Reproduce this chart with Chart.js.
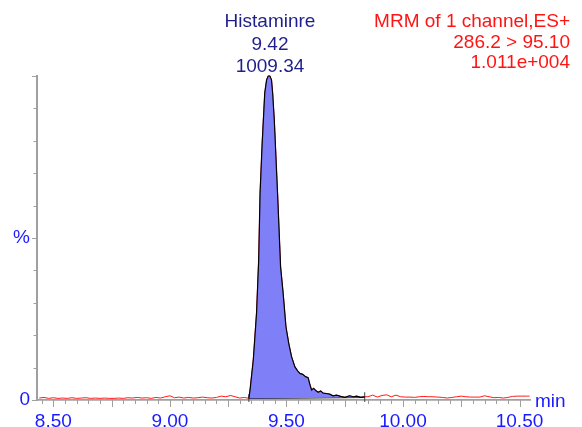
<!DOCTYPE html>
<html>
<head>
<meta charset="utf-8">
<style>
  html, body { margin: 0; padding: 0; background: #ffffff; }
  #c { display: block; }
</style>
<script src="https://cdn.jsdelivr.net/npm/chart.js@4.4.1/dist/chart.umd.min.js"></script>
</head>
<body>
<canvas id="c" width="582" height="427"></canvas>
<script>
// ---- data (retention time in min, intensity in %) ----
const preTimes = [8.44,8.46,8.48,8.50,8.52,8.54,8.56,8.58,8.60,8.62,8.64,8.66,8.68,8.70,8.72,8.74,8.76,8.78,8.80,8.82,8.84,8.86,8.88,8.90,8.92,8.94,8.96,8.98,9.00,9.02,9.04,9.06,9.08,9.10,9.12,9.14,9.16,9.18,9.20,9.22,9.24,9.26,9.28,9.30,9.32];
const preValues = [0.6,0.8,0.5,0.7,0.5,0.6,0.5,0.7,0.5,0.6,0.7,0.5,0.6,0.5,0.6,0.5,0.5,0.6,0.5,0.7,0.6,0.8,0.6,0.7,0.5,0.8,0.6,1.0,1.3,0.7,0.9,0.6,0.8,0.6,0.7,0.9,0.7,0.6,0.8,1.2,1.0,1.4,1.0,0.6,0.8];

const peakTimes = [9.339,9.344,9.358,9.372,9.381,9.387,9.396,9.407,9.415,9.422,9.429,9.436,9.441,9.448,9.462,9.475,9.486,9.498,9.510,9.522,9.536,9.548,9.558,9.570,9.582,9.593,9.600,9.608,9.617,9.626,9.636,9.647,9.658,9.672,9.686,9.700,9.715,9.733,9.751,9.770,9.788,9.801,9.818,9.836];
const peakValues = [0.5,3.1,12.5,27.0,43.2,63.8,79.2,94.7,98.8,100,100,98.8,94.7,86.4,63.8,41.1,32.9,22.6,17.5,13.4,10.3,9.0,8.2,7.9,7.2,6.9,5.0,3.1,3.6,2.9,2.4,2.8,2.1,2.0,1.8,1.3,1.5,1.1,0.8,1.3,1.0,1.2,0.8,1.0];

const postTimes = [9.85,9.87,9.89,9.91,9.93,9.95,9.97,9.99,10.01,10.03,10.05,10.07,10.09,10.11,10.13,10.15,10.17,10.19,10.21,10.23,10.25,10.27,10.29,10.31,10.33,10.35,10.37,10.39,10.41,10.43,10.45,10.47,10.49,10.51,10.53,10.543];
const postValues = [1.0,1.5,0.9,1.4,1.6,1.0,1.5,1.0,0.9,0.9,0.8,1.0,1.1,1.0,1.0,0.9,0.8,0.6,0.8,1.0,1.2,1.0,0.9,0.9,0.9,1.3,1.0,0.7,0.8,0.6,0.8,1.1,1.2,1.2,1.2,1.2];

const integrationStart = [9.339, 0.5];
const integrationEnd = [9.836, 0.8];

const xTickLabels = [8.50, 9.00, 9.50, 10.00, 10.50];
const yTickLabels = {0: '0', 50: '%'};

const peakName = 'Histaminre';
const peakRT = '9.42';
const peakArea = '1009.34';
const headerLines = ['MRM of 1 channel,ES+', '286.2 > 95.10', '1.011e+004'];
const xUnit = 'min';

// ---- build datasets ----
const toPts = (ts, vs) => ts.map((t, i) => ({x: t, y: vs[i]}));
const tracePts = toPts(preTimes, preValues).concat(toPts(peakTimes, peakValues), toPts(postTimes, postValues));
const peakPts = toPts(peakTimes, peakValues);
const basePts = [{x: integrationStart[0], y: integrationStart[1]}, {x: integrationEnd[0], y: integrationEnd[1]}];
const markPts = [
  {x: integrationStart[0], y: -0.6}, {x: integrationStart[0], y: 1.8}, {x: integrationStart[0] + 0.001, y: null},
  {x: integrationEnd[0], y: -0.6}, {x: integrationEnd[0], y: 2.4}
];

const AXIS_COLOR = '#a0a0a0';
const TICK_BLUE = '#1a1aff';
const FONT = 'Liberation Sans, Arial, sans-serif';

const decorPlugin = {
  id: 'decor',
  afterDraw(chart) {
    const ctx = chart.ctx;
    const xs = chart.scales.x, ys = chart.scales.y;
    const y0 = ys.getPixelForValue(0);
    const xLeft = xs.left;
    ctx.save();
    ctx.strokeStyle = AXIS_COLOR;
    ctx.lineWidth = 1;
    // x minor/major ticks
    for (let k = 169; k <= 210; k++) {
      const v = k * 0.05;
      const px = Math.round(xs.getPixelForValue(v)) + 0.5;
      const major = (k % 5 === 0);
      ctx.beginPath();
      ctx.moveTo(px, y0);
      ctx.lineTo(px, y0 + (major ? 7 : 4));
      ctx.stroke();
    }
    // y ticks
    for (let p = 0; p <= 100; p += 10) {
      const py = Math.round(ys.getPixelForValue(p)) + 0.5;
      const len = (p === 0 || p === 50 || p === 100) ? 5 : 3.5;
      ctx.beginPath();
      ctx.moveTo(xLeft - len, py);
      ctx.lineTo(xLeft, py);
      ctx.stroke();
    }
    // texts
    ctx.font = '19px ' + FONT;
    ctx.textBaseline = 'alphabetic';
    ctx.fillStyle = '#1f1f8c';
    ctx.textAlign = 'center';
    const cx = 270;
    ctx.fillText(peakName, cx, 27);
    ctx.fillText(peakRT, cx, 50);
    ctx.fillText(peakArea, cx, 72);
    ctx.fillStyle = '#ff1414';
    ctx.textAlign = 'right';
    ctx.fillText(headerLines[0], 570, 27);
    ctx.fillText(headerLines[1], 570, 47.5);
    ctx.fillText(headerLines[2], 570, 68);
    ctx.fillStyle = TICK_BLUE;
    ctx.textAlign = 'left';
    ctx.fillText(xUnit, 535, 407);
    ctx.restore();
  }
};

new Chart(document.getElementById('c'), {
  type: 'line',
  data: {
    datasets: [
      {
        data: peakPts,
        borderColor: '#000000',
        borderWidth: 1.2,
        backgroundColor: '#7f7ff8',
        fill: '+1',
        pointRadius: 0,
        tension: 0,
        order: 0
      },
      {
        data: basePts,
        borderColor: '#000000',
        borderWidth: 1.2,
        fill: false,
        pointRadius: 0,
        order: 1
      },
      {
        data: markPts,
        borderColor: '#404040',
        borderWidth: 1,
        fill: false,
        pointRadius: 0,
        spanGaps: false,
        order: 1
      },
      {
        data: tracePts,
        borderColor: '#ff1a1a',
        borderWidth: 1,
        fill: false,
        pointRadius: 0,
        tension: 0,
        order: 3
      }
    ]
  },
  options: {
    responsive: false,
    animation: false,
    devicePixelRatio: 1,
    clip: false,
    layout: { padding: { top: 76, right: 52, left: 0, bottom: 0 } },
    plugins: { legend: { display: false }, tooltip: { enabled: false } },
    scales: {
      x: {
        type: 'linear',
        min: 8.43,
        max: 10.545,
        afterFit(s) { s.height = 27; s.paddingLeft = 0; s.paddingRight = 0; },
        afterBuildTicks(s) { s.ticks = xTickLabels.map(v => ({value: v})); },
        grid: { display: false, drawTicks: false },
        border: { display: true, color: AXIS_COLOR, width: 1.8 },
        ticks: {
          color: TICK_BLUE,
          font: { family: FONT, size: 19 },
          padding: 10,
          maxRotation: 0,
          autoSkip: false,
          callback: v => v.toFixed(2)
        }
      },
      y: {
        type: 'linear',
        min: 0,
        max: 100,
        afterFit(s) { s.width = 37; s.paddingTop = 0; s.paddingBottom = 0; },
        afterBuildTicks(s) { s.ticks = Object.keys(yTickLabels).map(v => ({value: Number(v)})); },
        grid: { display: false, drawTicks: false },
        border: { display: true, color: AXIS_COLOR, width: 2 },
        ticks: {
          color: TICK_BLUE,
          font: { family: FONT, size: 19 },
          padding: 7,
          autoSkip: false,
          callback: v => yTickLabels[v] !== undefined ? yTickLabels[v] : ''
        }
      }
    }
  },
  plugins: [decorPlugin]
});
</script>
</body>
</html>
